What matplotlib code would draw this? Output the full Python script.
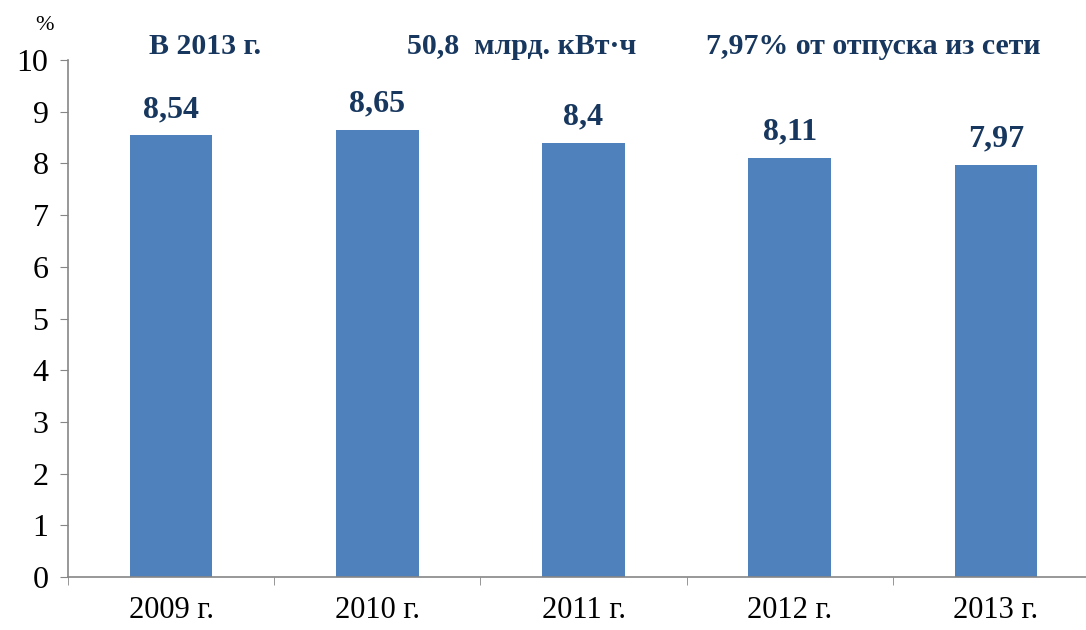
import matplotlib
matplotlib.use('Agg')
from matplotlib import pyplot as plt
import numpy as np

plt.rcParams['font.family'] = ['Liberation Serif', 'DejaVu Serif']

years = ['2009 г.', '2010 г.', '2011 г.', '2012 г.', '2013 г.']
losses = [8.54, 8.65, 8.4, 8.11, 7.97]
labels = ['8,54', '8,65', '8,4', '8,11', '7,97']
header = ['В 2013 г.', '50,8  млрд. кВт·ч', '7,97% от отпуска из сети']

bar_color = '#4F81BD'
text_color = '#17375E'
axis_color = '#868686'

fig = plt.figure(figsize=(10.86, 6.3), dpi=100)
# axis runs a bit past the right edge of the picture, as in the original
ax = fig.add_axes([68/1086, 1-577/630, (1099-68)/1086, (577-60)/630])

x = np.arange(len(years))
ax.bar(x, losses, width=0.4, color=bar_color)
for xi, v, lab in zip(x, losses, labels):
    ax.text(xi, v + 0.22, lab, ha='center', va='bottom', fontsize=23,
            fontweight='bold', color=text_color)

ax.set_xlim(-0.5, len(years) - 0.5)
ax.set_ylim(0, 10)
ax.set_yticks(range(0, 11))
ax.tick_params(axis='y', labelsize=23, length=6, color=axis_color, pad=8)
ax.set_xticks(x)
ax.set_xticklabels(years)
ax.tick_params(axis='x', length=0, labelsize=22, pad=14)
ax.set_xticks(np.arange(-0.5, len(years)), minor=True)
ax.tick_params(axis='x', which='minor', length=6, color=axis_color)

for s in ['top', 'right']:
    ax.spines[s].set_visible(False)
for s in ['left', 'bottom']:
    ax.spines[s].set_color(axis_color)
    ax.spines[s].set_linewidth(1.2)

fig.text(45/1086, 1-25/630, '%', fontsize=16, ha='center', va='center')
for cx, t in zip([205, 522, 873], header):
    fig.text(cx/1086, 1-46/630, t, fontsize=21.5, fontweight='bold',
             color=text_color, ha='center', va='center')

fig.savefig('out.png', dpi=100)
